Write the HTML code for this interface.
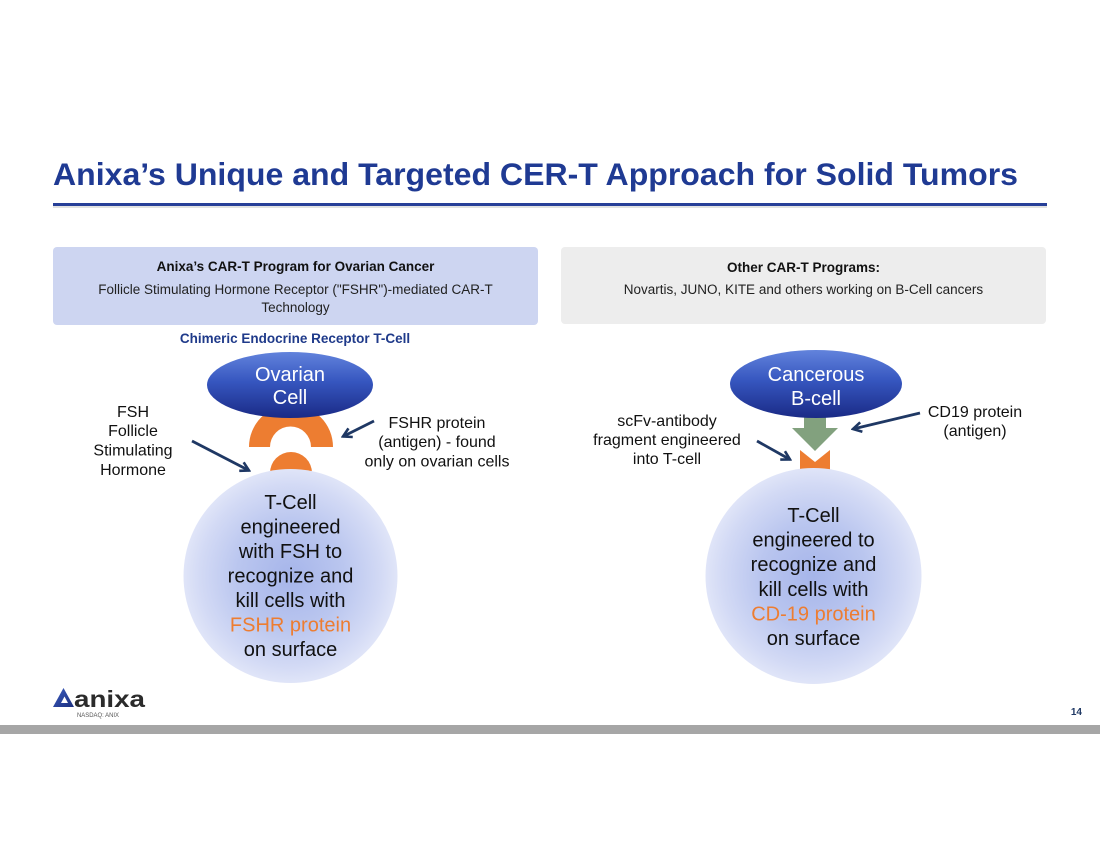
<!DOCTYPE html>
<html>
<head>
<meta charset="utf-8">
<style>
  html,body{margin:0;padding:0;background:#fff;}
  body{width:1100px;height:850px;overflow:hidden;position:relative;}
  svg{position:absolute;left:0;top:0;}
  text{font-family:"Liberation Sans",Arial,sans-serif;}
</style>
</head>
<body>
<svg width="1100" height="850" viewBox="0 0 1100 850" xmlns="http://www.w3.org/2000/svg">
  <defs>
    <linearGradient id="ell" x1="0" y1="0" x2="0" y2="1">
      <stop offset="0" stop-color="#6283dc"/>
      <stop offset="0.45" stop-color="#3656bf"/>
      <stop offset="1" stop-color="#1a2a86"/>
    </linearGradient>
    <radialGradient id="cell" cx="0.5" cy="0.5" r="0.5">
      <stop offset="0" stop-color="#a6b5ea"/>
      <stop offset="0.5" stop-color="#bac6ef"/>
      <stop offset="0.85" stop-color="#d3daf5"/>
      <stop offset="1" stop-color="#e0e5f8"/>
    </radialGradient>
    <linearGradient id="logo" x1="0" y1="0" x2="1" y2="1">
      <stop offset="0" stop-color="#3a5cc0"/>
      <stop offset="1" stop-color="#1c2f7e"/>
    </linearGradient>
    <marker id="ah" viewBox="0 0 12 12" refX="10" refY="6" markerWidth="12" markerHeight="12" orient="auto" markerUnits="userSpaceOnUse">
      <path d="M1.5,1.2 L10,6 L1.5,10.8" fill="none" stroke="#1f3864" stroke-width="2.6" stroke-linejoin="miter"/>
    </marker>
  </defs>

  <!-- Title -->
  <text x="53" y="185" font-size="31.5" font-weight="bold" fill="#1f3a93" textLength="965" lengthAdjust="spacingAndGlyphs">Anixa’s Unique and Targeted CER-T Approach for Solid Tumors</text>
  <rect x="53" y="203" width="994" height="3" fill="#273f98"/>
  <rect x="53" y="206" width="994" height="2" fill="#e2e2e2"/>

  <!-- Header boxes -->
  <rect x="53" y="247" width="485" height="78" rx="4" fill="#cdd5f1"/>
  <text x="295.5" y="271" font-size="13.5" font-weight="bold" fill="#111" text-anchor="middle">Anixa’s CAR-T Program for Ovarian Cancer</text>
  <text x="295.5" y="294" font-size="13.5" fill="#222" text-anchor="middle">Follicle Stimulating Hormone Receptor ("FSHR")-mediated CAR-T</text>
  <text x="295.5" y="312" font-size="13.5" fill="#222" text-anchor="middle">Technology</text>

  <rect x="561" y="247" width="485" height="77" rx="4" fill="#ededed"/>
  <text x="803.5" y="272" font-size="13.5" font-weight="bold" fill="#111" text-anchor="middle">Other CAR-T Programs:</text>
  <text x="803.5" y="294" font-size="13.5" fill="#222" text-anchor="middle">Novartis, JUNO, KITE and others working on B-Cell cancers</text>

  <text x="295" y="343" font-size="13.5" font-weight="bold" fill="#1f3a8a" text-anchor="middle">Chimeric Endocrine Receptor T-Cell</text>

  <!-- LEFT DIAGRAM -->
  <!-- arch (FSHR) -->
  <path d="M249,447 A42,42 0 0 1 333,447 L311,447 A20.5,20.5 0 0 0 270,447 Z" fill="#ed7d31"/>
  <!-- dome (FSH) -->
  <path d="M270,480 L270,473 A21,21 0 0 1 312,473 L312,480 Z" fill="#ed7d31"/>
  <!-- ovarian cell -->
  <ellipse cx="290" cy="385" rx="83" ry="33" fill="url(#ell)"/>
  <text x="290" y="381" font-size="20" fill="#fff" text-anchor="middle">Ovarian</text>
  <text x="290" y="404" font-size="20" fill="#fff" text-anchor="middle">Cell</text>
  <!-- T cell -->
  <circle cx="290.5" cy="576" r="107" fill="url(#cell)"/>
  <g font-size="20" fill="#111" text-anchor="middle">
    <text x="290.5" y="509">T-Cell</text>
    <text x="290.5" y="533.5">engineered</text>
    <text x="290.5" y="558">with FSH to</text>
    <text x="290.5" y="582.5">recognize and</text>
    <text x="290.5" y="607">kill cells with</text>
    <text x="290.5" y="631.5" fill="#ed7d31">FSHR protein</text>
    <text x="290.5" y="656">on surface</text>
  </g>
  <!-- labels -->
  <g font-size="16" fill="#111" text-anchor="middle">
    <text x="133" y="417">FSH</text>
    <text x="133" y="436">Follicle</text>
    <text x="133" y="455.5">Stimulating</text>
    <text x="133" y="475">Hormone</text>
    <text x="437" y="428">FSHR protein</text>
    <text x="437" y="447">(antigen) - found</text>
    <text x="437" y="466.5">only on ovarian cells</text>
  </g>
  <line x1="192" y1="441" x2="249" y2="470.5" stroke="#1f3864" stroke-width="2.8" marker-end="url(#ah)"/>
  <line x1="374" y1="421" x2="343" y2="436.5" stroke="#1f3864" stroke-width="2.8" marker-end="url(#ah)"/>

  <!-- RIGHT DIAGRAM -->
  <polygon points="804,410 826,410 826,428 838,428 815,451 792,428 804,428" fill="#82a17e"/>
  <polygon points="800,450 815,462 830,450 830,478 800,478" fill="#ed7d31"/>
  <ellipse cx="816" cy="384" rx="86" ry="34" fill="url(#ell)"/>
  <text x="816" y="381" font-size="20" fill="#fff" text-anchor="middle">Cancerous</text>
  <text x="816" y="405" font-size="20" fill="#fff" text-anchor="middle">B-cell</text>
  <circle cx="813.5" cy="576" r="108" fill="url(#cell)"/>
  <g font-size="20" fill="#111" text-anchor="middle">
    <text x="813.5" y="522">T-Cell</text>
    <text x="813.5" y="546.6">engineered to</text>
    <text x="813.5" y="571.2">recognize and</text>
    <text x="813.5" y="595.8">kill cells with</text>
    <text x="813.5" y="620.4" fill="#ed7d31">CD-19 protein</text>
    <text x="813.5" y="645">on surface</text>
  </g>
  <g font-size="16" fill="#111" text-anchor="middle">
    <text x="667" y="426">scFv-antibody</text>
    <text x="667" y="445">fragment engineered</text>
    <text x="667" y="464">into T-cell</text>
    <text x="975" y="417">CD19 protein</text>
    <text x="975" y="436">(antigen)</text>
  </g>
  <line x1="757" y1="441" x2="790" y2="459.5" stroke="#1f3864" stroke-width="2.8" marker-end="url(#ah)"/>
  <line x1="920" y1="413" x2="853" y2="429" stroke="#1f3864" stroke-width="2.8" marker-end="url(#ah)"/>

  <!-- Footer -->
  <path d="M53,707 L63.5,688 L74,707 Z M61,703 L64.5,696.5 L68,703 Z" fill="url(#logo)" fill-rule="evenodd"/>
  <text x="74" y="707" font-size="23" font-weight="bold" fill="#2b2b2b" textLength="71" lengthAdjust="spacingAndGlyphs">anixa</text>
  <text x="77" y="717" font-size="6" fill="#555" textLength="42" lengthAdjust="spacingAndGlyphs">NASDAQ: ANIX</text>
  <text x="1082" y="715" font-size="10" font-weight="bold" fill="#1f3864" text-anchor="end">14</text>
  <rect x="0" y="725" width="1100" height="9" fill="#a6a6a6"/>
</svg>
</body>
</html>
